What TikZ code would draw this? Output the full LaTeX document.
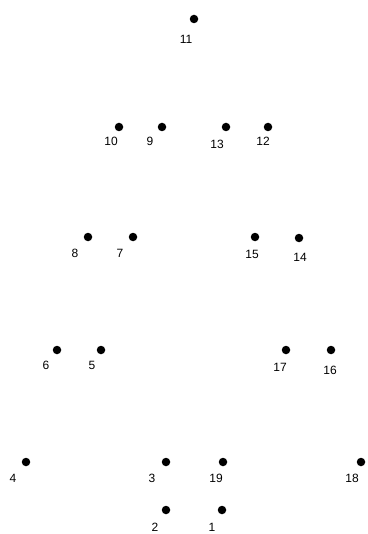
\documentclass[tikz,border=0pt]{standalone}
\usepackage{fontspec}
\setmainfont{Liberation Sans}
\begin{document}
\begin{tikzpicture}[x=1pt,y=-1pt,
  dot/.style={circle,fill=black,inner sep=0pt,minimum size=8.5pt},
  lbl/.style={inner sep=0pt,font=\fontsize{12}{12}\selectfont,anchor=center}]
\useasboundingbox (0,0) rectangle (367,534);
\foreach \n/\x/\y/\lx/\ly in {
 11/194/19/186/39,
 10/119/127/111/141,
 9/162/127/150/141,
 13/226/127/217/144,
 12/268/127/263/141,
 8/88/237/75/253,
 7/133/237/120/253,
 15/255/237/252/254,
 14/299/238/300/257,
 6/57/350/46/365,
 5/101/350/92/365,
 17/286/350/280/367,
 16/331/350/330/370,
 4/26/462/13/478,
 3/166/462/152/478,
 19/223/462/216/478,
 18/361/462/352/478,
 2/166/510/155/527,
 1/222/510/212/527}{
  \node[dot] (p\n) at (\x,\y) {};
  \node[lbl] (l\n) at (\lx,\ly) {\n};
}
\end{tikzpicture}
\end{document}
